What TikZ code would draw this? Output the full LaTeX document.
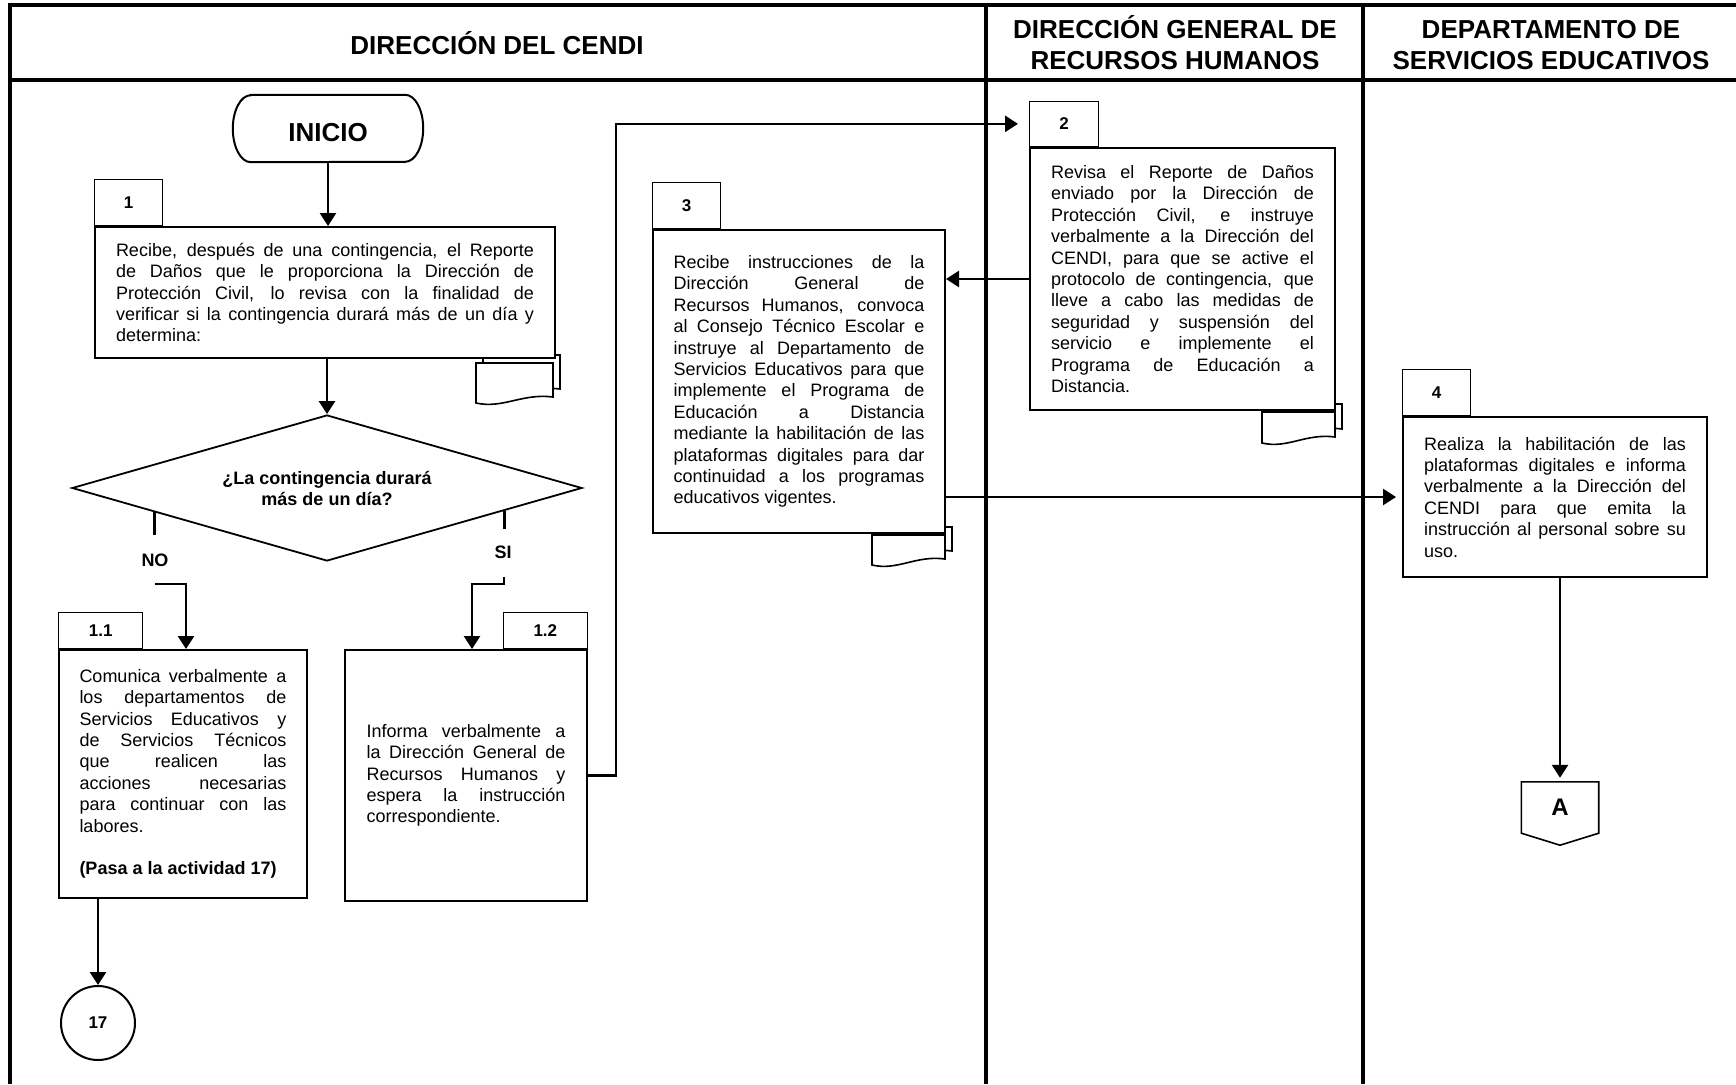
\documentclass[tikz,border=0pt]{standalone}
\usepackage{fontspec}
\setmainfont{Liberation Sans}
\usetikzlibrary{arrows.meta,shapes.geometric,calc}
\setlength{\parindent}{0pt}
\pgfdeclarelayer{bg}
\pgfsetlayers{bg,main}

% stacked document symbol: front sheet at (#1,#2), width #3, left height #4
\newcommand\docsym[4]{%
  \foreach \dx/\dy in {7/8, 0/0} {
    \draw[line width=1.6pt, fill=white]
      (#1+\dx, #2-\dy) -- (#1+\dx+#3, #2-\dy) -- (#1+\dx+#3, #2-\dy+#4-6)
      .. controls (#1+\dx+0.6*#3, #2-\dy+#4-10) and (#1+\dx+0.35*#3, #2-\dy+#4+6) ..
      (#1+\dx, #2-\dy+#4) -- cycle;
  }}

\tikzset{
  laneline/.style={line width=3.3pt},
  actbox/.style={draw, line width=2pt, fill=white, inner sep=0pt, align=justify,
    font=\fontsize{18}{21.4}\selectfont},
  numtab/.style={draw, line width=1.3pt, fill=white, inner sep=0pt,
    font=\fontsize{17}{20}\selectfont\bfseries},
  head/.style={inner sep=0pt, anchor=base, font=\fontsize{26}{31}\selectfont\bfseries},
  lbl/.style={inner sep=0pt, font=\fontsize{18}{21}\selectfont\bfseries},
  conn/.style={line width=2.6pt},
  arr/.style={conn, -{Triangle[length=13pt,width=16pt]}},
}

\begin{document}
\begin{tikzpicture}[x=1pt, y=-1pt]
\useasboundingbox (0,0) rectangle (1736,1084);

% swimlane frame
\draw[laneline] (10,1084) -- (10,5) -- (1736,5);
\draw[laneline] (10,80) -- (1736,80);
\draw[laneline] (986,5) -- (986,1084);
\draw[laneline] (1363,5) -- (1363,1084);

% lane headings
\node[head] (h1) at (497,54.3) {DIRECCIÓN DEL CENDI};
\node[head] (h2a) at (1175,38.3) {DIRECCIÓN GENERAL DE};
\node[head] (h2b) at (1175,69.3) {RECURSOS HUMANOS};
\node[head] (h3a) at (1551,38.3) {DEPARTAMENTO DE};
\node[head] (h3b) at (1551,69.3) {SERVICIOS EDUCATIVOS};

% start terminal
\node[inner sep=0pt, minimum width=190pt, minimum height=67pt, text height=25.6pt, text depth=0pt,
  font=\fontsize{26}{30}\selectfont\bfseries] (inicio) at (328,128.5) {INICIO};
\draw[line width=2pt] ([xshift=18pt]inicio.north west) -- ([xshift=-18pt]inicio.north east)
  arc[start angle=90, end angle=-90, x radius=18pt, y radius=33.5pt]
  -- ([xshift=18pt]inicio.south west)
  arc[start angle=270, end angle=90, x radius=18pt, y radius=33.5pt] -- cycle;

% activity boxes
\node[actbox, minimum width=460pt, minimum height=131pt, text width=418pt] (box1) at (325,292.5)
  {Recibe, después de una contingencia, el Reporte\linebreak
   de Daños que le proporciona la Dirección de\linebreak
   Protección Civil, lo revisa con la finalidad de\linebreak
   verificar si la contingencia durará más de un día y\linebreak
   determina:};
\node[numtab, minimum width=68pt, minimum height=46pt, anchor=south west] (t1) at (box1.north west) {1};

\node[actbox, minimum width=305pt, minimum height=262pt, text width=263pt] (box2) at (1182.5,279)
  {Revisa el Reporte de Daños\linebreak
   enviado por la Dirección de\linebreak
   Protección Civil, e instruye\linebreak
   verbalmente a la Dirección del\linebreak
   CENDI, para que se active el\linebreak
   protocolo de contingencia, que\linebreak
   lleve a cabo las medidas de\linebreak
   seguridad y suspensión del\linebreak
   servicio e implemente el\linebreak
   Programa de Educación a\linebreak
   Distancia.};
\node[numtab, minimum width=69pt, minimum height=45pt, anchor=south west] (t2) at (box2.north west) {2};

\node[actbox, minimum width=292pt, minimum height=303pt, text width=251pt] (box3) at (799,381.5)
  {Recibe instrucciones de la\linebreak
   Dirección General de\linebreak
   Recursos Humanos, convoca\linebreak
   al Consejo Técnico Escolar e\linebreak
   instruye al Departamento de\linebreak
   Servicios Educativos para que\linebreak
   implemente el Programa de\linebreak
   Educación a Distancia\linebreak
   mediante la habilitación de las\linebreak
   plataformas digitales para dar\linebreak
   continuidad a los programas\linebreak
   educativos vigentes.};
\node[numtab, minimum width=68pt, minimum height=46pt, anchor=south west] (t3) at (box3.north west) {3};

\node[actbox, minimum width=304pt, minimum height=160pt, text width=262pt] (box4) at (1555,497)
  {Realiza la habilitación de las\linebreak
   plataformas digitales e informa\linebreak
   verbalmente a la Dirección del\linebreak
   CENDI para que emita la\linebreak
   instrucción al personal sobre su\linebreak
   uso.};
\node[numtab, minimum width=68pt, minimum height=46pt, anchor=south west] (t4) at (box4.north west) {4};

\node[actbox, minimum width=248pt, minimum height=248pt, text width=207pt] (box11) at (183,774)
  {Comunica verbalmente a\linebreak
   los departamentos de\linebreak
   Servicios Educativos y\linebreak
   de Servicios Técnicos\linebreak
   que realicen las\linebreak
   acciones necesarias\linebreak
   para continuar con las\linebreak
   labores.\par\vspace{21.4pt}\textbf{(Pasa a la actividad 17)}};
\node[numtab, minimum width=84pt, minimum height=36pt, anchor=south west] (t11) at (box11.north west) {1.1};

\node[actbox, minimum width=242pt, minimum height=251pt, text width=199pt] (box12) at (466,775.5)
  {Informa verbalmente a\linebreak
   la Dirección General de\linebreak
   Recursos Humanos y\linebreak
   espera la instrucción\linebreak
   correspondiente.};
\node[numtab, minimum width=84pt, minimum height=36pt, anchor=south east] (t12) at (box12.north east) {1.2};

% document symbols under the boxes
\begin{pgfonlayer}{bg}
  \docsym{476}{363}{77}{40}
  \docsym{1262}{412}{73}{31}
  \docsym{872}{535}{73}{30}
\end{pgfonlayer}

% decision
\node[diamond, draw, line width=1.8pt, aspect=3.5, minimum width=510pt, minimum height=146pt,
  inner sep=0pt, align=center, font=\fontsize{18}{21}\selectfont\bfseries] (dec) at (327,488)
  {¿La contingencia durará\\más de un día?};

% connectors
\node[circle, draw, line width=2pt, minimum size=74pt, inner sep=0pt,
  font=\fontsize{17}{20}\selectfont\bfseries] (c17) at (98,1023) {17};
\node[inner sep=0pt, minimum width=77pt, minimum height=51pt,
  font=\fontsize{24}{28}\selectfont\bfseries] (conA) at (1560,807.5) {A};
\draw[line width=1.6pt] (conA.north west) -- (conA.north east) -- (conA.south east)
  -- ($(conA.south)+(0,12)$) -- (conA.south west) -- cycle;

% flow lines
\draw[arr] (inicio.south) -- (inicio.south |- box1.north);
\draw[arr] (box1.south -| dec.north) -- (dec.north);

\coordinate (noA) at ($(dec.west)!0.325!(dec.south)$);
\draw[conn] (noA) -- ++(0,23);
\node[lbl] (no) at (155,560) {NO};
\coordinate (noB) at (155,584);
\draw[arr] (noB) -| ([xshift=3pt]box11.north);

\coordinate (siA) at ($(dec.east)!0.306!(dec.south)$);
\draw[conn] (siA) -- ++(0,18);
\node[lbl] (si) at (503,552) {SI};
\coordinate (siB) at (504,577);
\draw[arr] (siB) -- ++(0,7) -| ([xshift=6pt]box12.north);

\draw[arr] (box11.south -| c17.north) -- (c17.north);
\draw[arr] (box12.east) -- ++(28,0) |- ([xshift=-11pt]t2.west);
\draw[arr] (box2.west) -- (box2.west -| box3.east);
\draw[arr] (box4.west -| box3.east) -- ([xshift=-6pt]box4.west);
\draw[arr] (box4.south -| conA.north) -- ([yshift=4pt]conA.north);
\end{tikzpicture}
\end{document}
